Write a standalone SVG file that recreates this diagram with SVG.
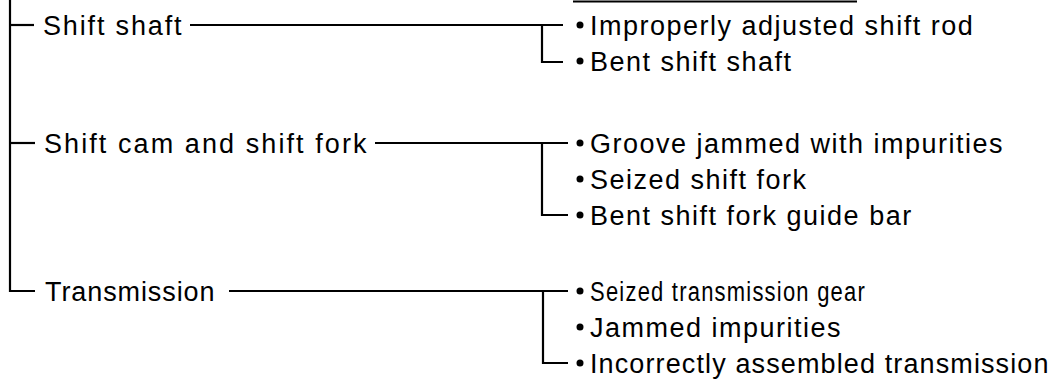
<svg xmlns="http://www.w3.org/2000/svg" width="1056" height="381" viewBox="0 0 1056 381">
<style>
.ln{fill:none;stroke:#000;stroke-width:2.2}
.t{font-family:"Liberation Sans",Arial,sans-serif;font-size:27px;letter-spacing:1.5px;fill:#000}
.b{fill:#000}
</style>
<rect width="1056" height="381" fill="#fff"/>
<g id="connectors">
<path class="ln" d="M10,0 V291 H35"/>
<path class="ln" d="M10,25 H34"/>
<path class="ln" d="M10,143 H35"/>
<path class="ln" d="M190,25 H563 M542,25 V62 H563"/>
<path class="ln" d="M375,143 H568 M542,143 V215 H568"/>
<path class="ln" d="M229,291 H568 M543,291 V363 H568"/>
<path class="ln" d="M573,1.5 H857"/>
</g>
<g id="shift-shaft"><text class="t" x="43" y="35" textLength="140" lengthAdjust="spacing">Shift shaft</text></g>
<g id="shift-cam"><text class="t" x="44" y="153" textLength="324" lengthAdjust="spacing">Shift cam and shift fork</text></g>
<g id="transmission"><text class="t" x="45" y="301" textLength="171" lengthAdjust="spacing">Transmission</text></g>
<g id="c1"><circle class="b" cx="580" cy="25" r="3.5"/><text class="t" x="590" y="35">Improperly adjusted shift rod</text></g>
<g id="c2"><circle class="b" cx="580" cy="61" r="3.5"/><text class="t" x="590" y="71">Bent shift shaft</text></g>
<g id="c3"><circle class="b" cx="580" cy="143" r="3.5"/><text class="t" x="590" y="153">Groove jammed with impurities</text></g>
<g id="c4"><circle class="b" cx="580" cy="179" r="3.5"/><text class="t" x="590" y="189">Seized shift fork</text></g>
<g id="c5"><circle class="b" cx="580" cy="215" r="3.5"/><text class="t" x="590" y="225">Bent shift fork guide bar</text></g>
<g id="c6"><circle class="b" cx="580" cy="291" r="3.5"/><text class="t" x="590" y="301" textLength="276" lengthAdjust="spacingAndGlyphs">Seized transmission gear</text></g>
<g id="c7"><circle class="b" cx="580" cy="327" r="3.5"/><text class="t" x="590" y="337">Jammed impurities</text></g>
<g id="c8"><circle class="b" cx="580" cy="363" r="3.5"/><text class="t" x="590" y="373" textLength="460" lengthAdjust="spacing">Incorrectly assembled transmission</text></g>
</svg>
